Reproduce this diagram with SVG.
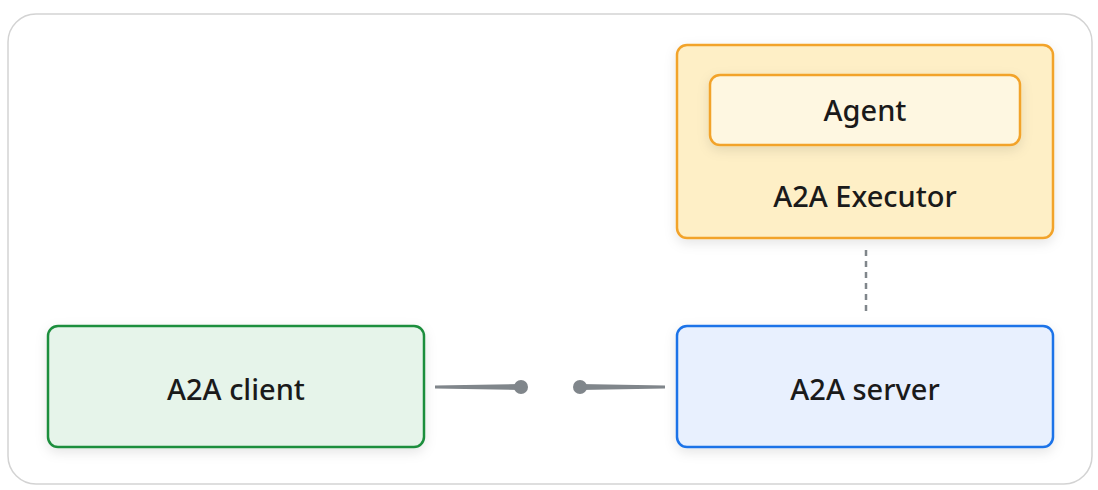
<svg xmlns="http://www.w3.org/2000/svg" width="1098" height="490" viewBox="0 0 1098 490">
<style>
text{font-family:"Noto Sans","Open Sans",sans-serif;font-size:29px;font-weight:500;fill:#1a1a1a;text-anchor:middle;dominant-baseline:central}
.box{stroke-width:2.5}
</style>
<defs>
<filter id="sh" x="-10%" y="-20%" width="120%" height="150%">
<feDropShadow dx="0" dy="4" stdDeviation="6" flood-color="#000" flood-opacity="0.10"/>
</filter>
</defs>
<rect x="0" y="0" width="1098" height="490" fill="#ffffff"/>
<rect x="8" y="14" width="1084" height="470" rx="28" fill="#ffffff" stroke="#d3d3d3" stroke-width="1.5"/>
<g id="connectors">
<line x1="866" y1="250" x2="866" y2="316" stroke="#80868b" stroke-width="2.5" stroke-dasharray="6,5"/>
<polygon points="435,385.5 520,384 520,390 435,388.5" fill="#80868b"/>
<circle cx="521" cy="387" r="7" fill="#80868b"/>
<polygon points="580,384 665,385.5 665,388.5 580,390" fill="#80868b"/>
<circle cx="580" cy="387" r="7" fill="#80868b"/>
</g>
<g id="executor">
<rect class="box" x="677" y="45" width="376" height="193" rx="10" fill="#feefc6" stroke="#f2a32b" filter="url(#sh)"/>
<text x="865" y="195">A2A Executor</text>
</g>
<g id="agent">
<rect class="box" x="710" y="75" width="310" height="70" rx="10" fill="#fef7e1" stroke="#f2a32b" filter="url(#sh)"/>
<text x="865" y="109">Agent</text>
</g>
<g id="client">
<rect class="box" x="48" y="326" width="376" height="121" rx="10" fill="#e6f4ea" stroke="#1e8e3e" filter="url(#sh)"/>
<text x="236" y="388">A2A client</text>
</g>
<g id="server">
<rect class="box" x="677" y="326" width="376" height="121" rx="10" fill="#e8f0fe" stroke="#1a73e8" filter="url(#sh)"/>
<text x="865" y="388">A2A server</text>
</g>
</svg>
